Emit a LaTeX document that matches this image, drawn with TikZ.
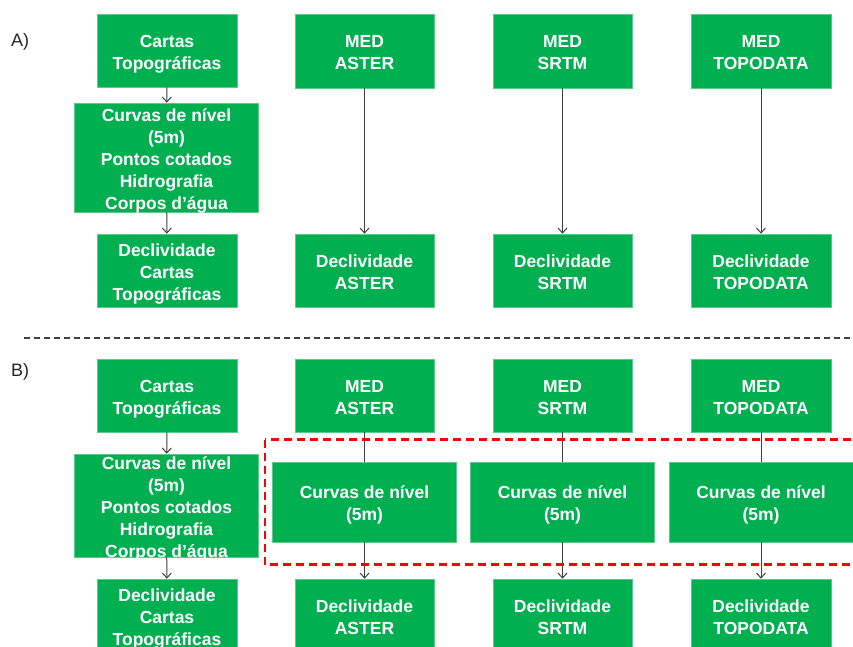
\documentclass[tikz,border=0pt]{standalone}
\usepackage{fontspec}
\setmainfont{Liberation Sans}
\usetikzlibrary{arrows.meta}
\definecolor{boxgreen}{HTML}{00AF50}
\definecolor{boxedge}{HTML}{5CC98B}
\definecolor{linegray}{HTML}{404040}
\newcommand\tstr{\rule{0pt}{21.6pt}}
\newcommand\bstr{\rule[-6pt]{0pt}{0pt}}
\tikzset{
  gbox/.style={fill=boxgreen, draw=boxedge, line width=0.6pt, text=white,
    font=\fontsize{17.5}{22}\selectfont\bfseries, align=center, inner sep=0pt},
  tallbox/.style={gbox, minimum width=184pt, inner ysep=-7pt},
  conn/.style={draw=linegray, line width=1pt},
  arr/.style={conn, -{Straight Barb[length=5pt,width=9pt,line width=1pt]}},
  lbl/.style={font=\fontsize{18}{22}\selectfont, text=black!85, inner sep=0pt},
}
\begin{document}
\begin{tikzpicture}[x=1pt,y=-1pt]
\useasboundingbox (0,0) rectangle (853,646);
\clip (0,0) rectangle (853,646);
\fill[white] (0,0) rectangle (853,646);

% labels
\node[lbl] (la) at (20,42) {A)};
\node[lbl] (lb) at (20,372) {B)};

% Panel A
\node[gbox, minimum width=140pt, minimum height=73pt] (cA) at (167,50.5) {\tstr Cartas\\Topográficas\bstr};
\node[tallbox, minimum height=109pt] (nA) at (166.5,157.5) {\tstr Curvas de nível\\(5m)\\Pontos cotados\\Hidrografia\\Corpos d’água\bstr};
\node[gbox, minimum width=140pt, minimum height=73pt] (dA) at (167,270.5) {\tstr Declividade\\Cartas\\Topográficas\bstr};
\node[gbox, minimum width=139pt, minimum height=74pt] (mA1) at (364.5,51) {\tstr MED\\ASTER\bstr};
\node[gbox, minimum width=139pt, minimum height=74pt] (mA2) at (562.5,51) {\tstr MED\\SRTM\bstr};
\node[gbox, minimum width=140pt, minimum height=74pt] (mA3) at (761,51) {\tstr MED\\TOPODATA\bstr};
\node[gbox, minimum width=139pt, minimum height=73pt] (dA1) at (364.5,270.5) {\tstr Declividade\\ASTER\bstr};
\node[gbox, minimum width=139pt, minimum height=73pt] (dA2) at (562.5,270.5) {\tstr Declividade\\SRTM\bstr};
\node[gbox, minimum width=140pt, minimum height=73pt] (dA3) at (761,270.5) {\tstr Declividade\\TOPODATA\bstr};

\draw[arr] (cA) -- (nA);
\draw[arr] (nA) -- (dA);
\draw[arr] (mA1) -- (dA1);
\draw[arr] (mA2) -- (dA2);
\draw[arr] (mA3) -- (dA3);

% separator
\coordinate (sepL) at (24,338);
\coordinate (sepR) at (860,338);
\draw[draw=linegray, line width=2pt, dash pattern=on 6pt off 4pt] (sepL) -- (sepR);

% Panel B
\node[gbox, minimum width=140pt, minimum height=73pt] (cB) at (167,395.5) {\tstr Cartas\\Topográficas\bstr};
\node[tallbox, minimum height=103pt] (nB) at (166.5,505.5) {\tstr Curvas de nível\\(5m)\\Pontos cotados\\Hidrografia\\Corpos d’água\bstr};
\node[gbox, minimum width=140pt, minimum height=73pt] (dB) at (167,615.5) {\tstr Declividade\\Cartas\\Topográficas\bstr};
\node[gbox, minimum width=139pt, minimum height=73pt] (mB1) at (364.5,395.5) {\tstr MED\\ASTER\bstr};
\node[gbox, minimum width=139pt, minimum height=73pt] (mB2) at (562.5,395.5) {\tstr MED\\SRTM\bstr};
\node[gbox, minimum width=140pt, minimum height=73pt] (mB3) at (761,395.5) {\tstr MED\\TOPODATA\bstr};
\node[gbox, minimum width=184pt, minimum height=80pt] (kB1) at (364.5,502) {\tstr Curvas de nível\\(5m)\bstr};
\node[gbox, minimum width=184pt, minimum height=80pt] (kB2) at (562.5,502) {\tstr Curvas de nível\\(5m)\bstr};
\node[gbox, minimum width=184pt, minimum height=80pt] (kB3) at (761,502) {\tstr Curvas de nível\\(5m)\bstr};
\node[gbox, minimum width=139pt, minimum height=73pt] (dB1) at (364.5,615.5) {\tstr Declividade\\ASTER\bstr};
\node[gbox, minimum width=139pt, minimum height=73pt] (dB2) at (562.5,615.5) {\tstr Declividade\\SRTM\bstr};
\node[gbox, minimum width=140pt, minimum height=73pt] (dB3) at (761,615.5) {\tstr Declividade\\TOPODATA\bstr};

\draw[arr] (cB) -- (nB);
\draw[arr] (nB) -- (dB);
\draw[conn] (mB1) -- (kB1);
\draw[conn] (mB2) -- (kB2);
\draw[conn] (mB3) -- (kB3);
\draw[arr] (kB1) -- (dB1);
\draw[arr] (kB2) -- (dB2);
\draw[arr] (kB3) -- (dB3);

% red dashed group
\coordinate (rTL) at (265,439.5);
\coordinate (rBR) at (875,564.5);
\draw[red, line width=2.5pt, dash pattern=on 8pt off 5pt] (rTL) rectangle (rBR);
\end{tikzpicture}
\end{document}
